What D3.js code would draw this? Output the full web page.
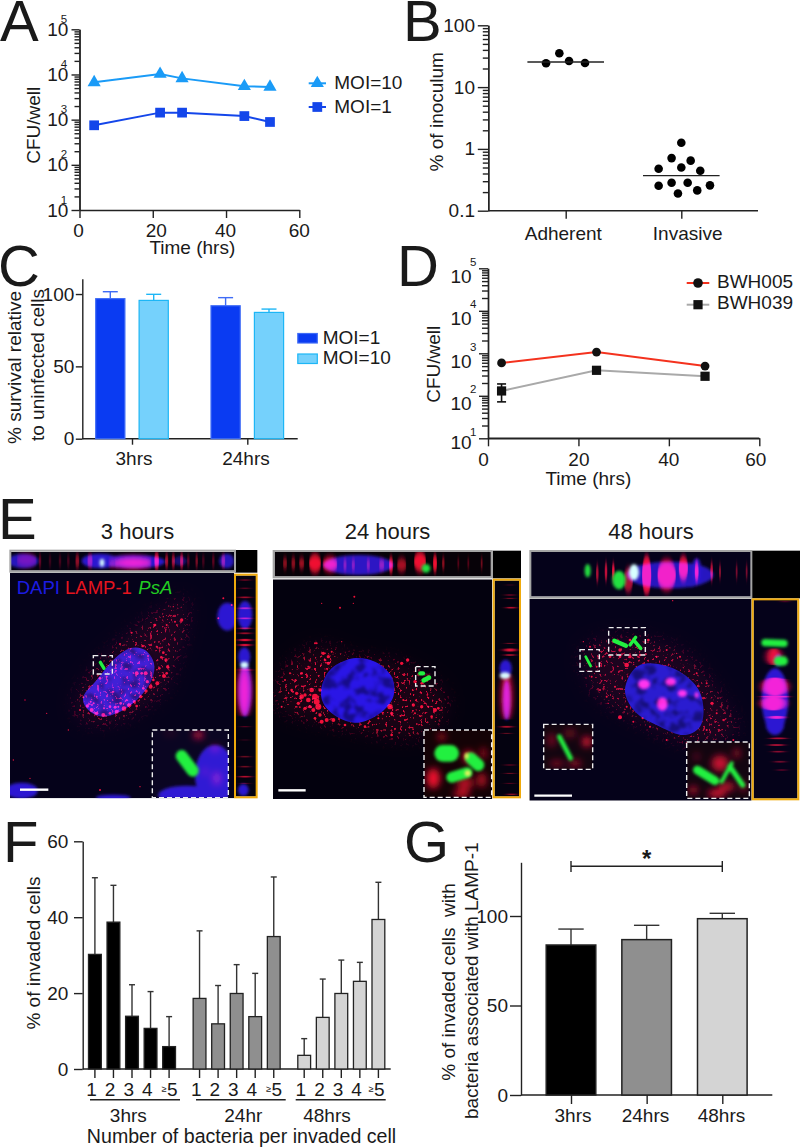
<!DOCTYPE html>
<html>
<head>
<meta charset="utf-8">
<script src="https://cdn.jsdelivr.net/npm/d3@7"></script>
<style>
	body{margin:0;background:#fff}
	text{font-family:"Liberation Sans",Arial,sans-serif;fill:#1a1a1a}
</style>
</head>
<body>
<div id="chart-area"></div>
<script>
// panel A
const aTime = [4,22,28,45,52]
const aMoi10 = [6700,10250,8200,5470,5290]
const aMoi1 = [750,1430,1430,1200,888]

// panel B
const bAdherent = [24.3,35.2,26.5,24.6]
const bAdherentSpread = [-0.17,-0.055,0.029,0.167]
const bInvasive = [1.26,0.71,0.646,0.5,0.478,0.444,0.254,0.284,0.284,0.257,0.213,0.19]
const bInvasiveSpread = [0,-0.084,0.081,0,-0.196,0.164,-0.196,-0.084,0.055,0.248,0.138,-0.029]
const bMedians = [25.5,0.369]
const bGroups = ["Adherent","Invasive"]

// panel C
const cGroups = ["3hrs","24hrs"]
const cSeries = ["MOI=1","MOI=10"]
const cMoi1 = [96.8,91.9]
const cMoi10 = [95.6,87.3]
const cMoi1Err = [101.6,97.5]
const cMoi10Err = [99.8,89.6]

// panel D
const dTime = [3,24,48]
const dBwh005 = [593,1070,500]
const dBwh039 = [130,398,288]
const dBwh039Hi = [190,398,288]
const dBwh039Lo = [72,398,288]

// panel F
const fGroups = ["3hrs","24hr","48hrs"]
const fCounts = ["1","2","3","4","≥5"]
const fValues = [[30.2,38.7,13.9,10.7,5.9],[18.6,11.9,19.9,13.8,34.9],[3.6,13.6,19.9,23.1,39.4]]
const fErrors = [[50.4,48.4,22.2,20.4,13.8],[36.4,22,27.5,25.2,50.6],[8,23.7,28.7,28.1,49.2]]
const fFills = ["#000","#8f8f8f","#d4d4d4"]

// panel G
const gGroups = ["3hrs","24hrs","48hrs"]
const gValues = [83.8,86.8,98.5]
const gErrors = [92.7,94.8,101.5]

const FONT_SIZE = 19
const INK = "#222"

const svg = d3.select("#chart-area").append("svg")
	.attr("width",800)
	.attr("height",1148)
	.style("display","block")

const defs = svg.append("defs")
function blurFilter(id,dev){
	defs.append("filter").attr("id",id)
		.attr("filterUnits","userSpaceOnUse")
		.attr("x",0).attr("y",0).attr("width",800).attr("height",1148)
		.append("feGaussianBlur").attr("stdDeviation",dev)
}
blurFilter("soft",0.7)
blurFilter("softer",1.6)
blurFilter("glow",3.5)
blurFilter("haze",9)
blurFilter("vstreak","0.7 3")
blurFilter("hstreak","3 0.7")

// speckled texture for the cell bodies, cut out of a soft copy of the shape
function textureFilter(id,freq,seed,slope,cut,edge,grain){
	const f = defs.append("filter").attr("id",id)
		.attr("filterUnits","userSpaceOnUse")
		.attr("x",0).attr("y",0).attr("width",800).attr("height",1148)
	f.append("feTurbulence").attr("type","fractalNoise").attr("baseFrequency",freq)
		.attr("numOctaves",2).attr("seed",seed).attr("result","n")
	f.append("feColorMatrix").attr("in","n").attr("type","matrix")
		.attr("values",`0 0 0 0 0 0 0 0 0 0 0 0 0 0 0 ${slope} 0 0 0 ${cut}`).attr("result","a")
	f.append("feGaussianBlur").attr("in","SourceGraphic").attr("stdDeviation",edge).attr("result","s")
	f.append("feComposite").attr("in","s").attr("in2","a").attr("operator","in").attr("result","c")
	f.append("feGaussianBlur").attr("in","c").attr("stdDeviation",grain)
}
textureFilter("speckle",0.34,4,10,-6.1,7,0.4)
textureFilter("mottle",0.09,7,5,-2.3,1,0.8)

function label(str,x,y,opts={}){
	const t = svg.append("text")
		.attr("x",x)
		.attr("y",y)
		.attr("font-size",opts.size||FONT_SIZE)
		.attr("text-anchor",opts.anchor||"middle")
		.text(str)
	if(opts.rotate) t.attr("transform",`rotate(-90,${x},${y})`)
	if(opts.fill) t.style("fill",opts.fill)
	if(opts.style) t.attr("font-style",opts.style)
	if(opts.weight) t.attr("font-weight",opts.weight)
	return t
}

function styleAxis(g){
	g.attr("font-family",null).attr("font-size",FONT_SIZE)
	g.selectAll("path,line").attr("stroke",INK).attr("stroke-width",1.4)
	return g
}

function hline(x1,x2,y,color=INK,w=1.4){
	svg.append("line").attr("x1",x1).attr("x2",x2).attr("y1",y).attr("y2",y)
		.attr("stroke",color).attr("stroke-width",w)
}

// log axis with minor ticks; labels are drawn by the caller
function logAxis(y,x0,majorLen,minorLen,isMajor){
	styleAxis(svg.append("g").attr("transform",`translate(${x0},0)`)
		.call(d3.axisLeft(y).tickValues(y.ticks().filter(d=>!isMajor(d))).tickSize(minorLen).tickSizeOuter(0).tickFormat("")))
	styleAxis(svg.append("g").attr("transform",`translate(${x0},0)`)
		.call(d3.axisLeft(y).tickValues(y.ticks().filter(isMajor)).tickSize(majorLen).tickSizeOuter(0).tickFormat("")))
}

const isDecade = d=>Math.abs(Math.log10(d)-Math.round(Math.log10(d)))<1e-6

function powerLabels(y,decades,tenEnd,tenDy,supX,supDy,supAnchor){
	decades.forEach(p=>{
		const v = Math.pow(10,p)
		const dy = typeof tenDy==="function" ? tenDy(p) : tenDy
		label("10",tenEnd,y(v)+dy,{anchor:"end"})
		label(p,supX,y(v)+supDy,{size:11.5,anchor:supAnchor})
	})
}

function nudgeTicks(g,offsets){
	g.selectAll(".tick text").attr("dx",(d,i)=>offsets[i])
}

/* ---------- A ---------- */
const ax = d3.scaleLinear().domain([0,60]).range([79.5,299.3])
const ay = d3.scaleLog().domain([10,100000]).range([210,29.3])
logAxis(ay,79.5,8,5,isDecade)
powerLabels(ay,[1,2,3,4,5],68.3,6.5,64,-6.5,"middle")
nudgeTicks(styleAxis(svg.append("g").attr("transform","translate(0,210)")
	.call(d3.axisBottom(ax).tickValues([0,20,40,60]).tickSize(8).tickSizeOuter(0).tickPadding(6))),[-1.5,3,-1,-0.6])

const aLine = d3.line().x((d,i)=>ax(aTime[i])).y(d=>ay(d))
const aColors = ["#1a9bf7","#1446ea"]
;[aMoi10,aMoi1].forEach((series,k)=>{
	svg.append("path").attr("d",aLine(series)).attr("fill","none")
		.attr("stroke",aColors[k]).attr("stroke-width",2)
	const sym = d3.symbol().type(k==0?d3.symbolTriangle:d3.symbolSquare).size(k==0?75:95)
	svg.selectAll(null).data(series).enter().append("path")
		.attr("d",sym)
		.attr("fill",aColors[k])
		.attr("transform",(d,i)=>`translate(${ax(aTime[i])},${ay(d)})`)
})
label("CFU/well",40,125.3,{rotate:true})
label("Time (hrs)",192.3,254)

;["MOI=10","MOI=1"].forEach((name,k)=>{
	const ly = [83.3,107][k]
	hline(308.7,326,ly,aColors[k],2)
	svg.append("path").attr("d",d3.symbol().type(k==0?d3.symbolTriangle:d3.symbolSquare).size(k==0?75:95))
		.attr("fill",aColors[k]).attr("transform",`translate(317.3,${ly})`)
	label(name,334.3,ly+5.5,{anchor:"start"})
})

/* ---------- B ---------- */
const bx = d3.scaleLinear().domain([0,1]).range([565.7,681.3])
const by = d3.scaleLog().domain([0.1,100]).range([210.7,25.3])
logAxis(by,488.3,10.5,5.5,isDecade)
;[100,10,1,0.1].forEach(v=>label(v,475,by(v)+6.5,{anchor:"end"}))
hline(488.3,758,210.7)
styleAxis(svg.append("g").attr("transform","translate(0,210.7)")
	.call(d3.axisBottom(bx).tickValues([0,1]).tickSize(8).tickSizeOuter(0).tickFormat("")))
	.select(".domain").remove()

svg.selectAll(null).data(bAdherent).enter().append("circle")
	.attr("cx",(d,i)=>bx(bAdherentSpread[i]))
	.attr("cy",d=>by(d))
	.attr("r",4.3)
	.attr("fill","#000")
svg.selectAll(null).data(bInvasive).enter().append("circle")
	.attr("cx",(d,i)=>bx(1+bInvasiveSpread[i]))
	.attr("cy",d=>by(d))
	.attr("r",4.3)
	.attr("fill","#000")
bMedians.forEach((m,i)=>hline(bx(i)-38.3,bx(i)+38.3,by(m)))
label("% of inoculum",442.7,111.7,{rotate:true})
label(bGroups[0],563.3,240)
label(bGroups[1],687.7,240)

/* ---------- C ---------- */
const cx0 = d3.scalePoint().domain(cGroups).range([132,247.3])
const cx1 = d3.scalePoint().domain(cSeries).range([-21.7,21.7])
const cy = d3.scaleLinear().domain([0,110.6]).range([438.7,278.7])
styleAxis(svg.append("g").attr("transform","translate(82.3,0)")
	.call(d3.axisLeft(cy).tickValues([0,50,100]).tickSize(6.5).tickSizeOuter(0).tickPadding(1.5)))
hline(82.3,297.7,438.7)
styleAxis(svg.append("g").attr("transform","translate(0,438.7)")
	.call(d3.axisBottom(cx0).tickSize(6).tickSizeOuter(0).tickFormat("")))
	.select(".domain").remove()

const cStyle = {"MOI=1":["#0a3bf2","#3f6cf6"],"MOI=10":["#75d1fc","#1db6f6"]}
cSeries.forEach((s,k)=>{
	const vals = k==0?cMoi1:cMoi10
	const errs = k==0?cMoi1Err:cMoi10Err
	cGroups.forEach((g,i)=>{
		const x = cx0(g)+cx1(s)
		svg.append("line").attr("x1",x).attr("x2",x).attr("y1",cy(vals[i])).attr("y2",cy(errs[i]))
			.attr("stroke",cStyle[s][1]).attr("stroke-width",1.4)
		hline(x-7.5,x+7.5,cy(errs[i]),cStyle[s][1])
		svg.append("rect").attr("x",x-14.6).attr("width",29.2)
			.attr("y",cy(vals[i])).attr("height",cy(0)-cy(vals[i]))
			.attr("fill",cStyle[s][0]).attr("stroke",cStyle[s][1]).attr("stroke-width",1.2)
	})
})
label("% survival relative",21,367.5,{rotate:true})
label("to uninfected cells",44.3,365,{rotate:true})
label(cGroups[0],134,465)
label(cGroups[1],246,465)
cSeries.forEach((s,k)=>{
	svg.append("rect").attr("x",297.8).attr("width",19.5)
		.attr("y",333.5+k*20.5).attr("height",9.5)
		.attr("fill",cStyle[s][0]).attr("stroke",cStyle[s][1]).attr("stroke-width",1.2)
	label(s,322.7,344+k*20,{anchor:"start"})
})

/* ---------- D ---------- */
const dx = d3.scaleLinear().domain([0,60]).range([488,759.3])
const dy = d3.scaleLog().domain([10,100000]).range([438.3,268.3])
logAxis(dy,488,9,6,isDecade)
powerLabels(dy,[1,2,3,4,5],471.7,p=>p==1?11:14.5,470,-2.6,"start")
hline(488,759.3,438.3)
nudgeTicks(styleAxis(svg.append("g").attr("transform","translate(0,438.3)")
	.call(d3.axisBottom(dx).tickValues([0,20,40,60]).tickSize(8).tickSizeOuter(0).tickPadding(6))),[-5,0,-0.5,-4])

const dLine = d3.line().x((d,i)=>dx(dTime[i])).y(d=>dy(d))
svg.append("path").attr("d",dLine(dBwh039)).attr("fill","none").attr("stroke","#a9a9a9").attr("stroke-width",2)
svg.append("path").attr("d",dLine(dBwh005)).attr("fill","none").attr("stroke","#f4321e").attr("stroke-width",2)
dBwh039Hi.forEach((hi,i)=>{
	if(hi==dBwh039[i]) return
	const x = dx(dTime[i])
	svg.append("line").attr("x1",x).attr("x2",x).attr("y1",dy(hi)).attr("y2",dy(dBwh039Lo[i]))
		.attr("stroke","#111").attr("stroke-width",1.6)
	hline(x-4.5,x+4.5,dy(hi),"#111",1.6)
	hline(x-4.5,x+4.5,dy(dBwh039Lo[i]),"#111",1.6)
})
svg.selectAll(null).data(dBwh005).enter().append("circle")
	.attr("cx",(d,i)=>dx(dTime[i])).attr("cy",d=>dy(d)).attr("r",4.4).attr("fill","#111")
svg.selectAll(null).data(dBwh039).enter().append("path")
	.attr("d",d3.symbol().type(d3.symbolSquare).size(85))
	.attr("fill","#111")
	.attr("transform",(d,i)=>`translate(${dx(dTime[i])},${dy(d)})`)
label("CFU/well",440,364.3,{rotate:true})
label("Time (hrs)",588.3,485)

hline(686.7,709.3,283,"#f4321e",2)
svg.append("circle").attr("cx",698).attr("cy",283).attr("r",4.8).attr("fill","#111")
hline(686.7,709.3,304.7,"#a9a9a9",2)
svg.append("path").attr("d",d3.symbol().type(d3.symbolSquare).size(85)).attr("fill","#111")
	.attr("transform","translate(698,304.7)")
label("BWH005",717,288.3,{anchor:"start"})
label("BWH039",717,309,{anchor:"start"})

/* ---------- E: micrographs, everything in zoomed crop units (3 per page pixel) ---------- */
const BG = "#05021a"
const hazeLine = d3.line().curve(d3.curveCardinalClosed)

// blobs are [x,y,rx,ry,opacity], puncta [x,y,r]
const nuc1 = [[250,590],[290,540],[340,480],[390,445],[435,450],[462,490],[455,540],[420,590],[370,630],[310,650],[265,630]]
const cell1 = [[225,610],[290,500],[370,420],[470,340],[550,300],[560,370],[520,500],[490,570],[380,650],[270,670]]
const e1Blue = [[682,350,30,42],[65,872,48,24],[340,893,52,9]]
const e1Puncta = [[262,618,5],[275,630,6],[290,640,5],[310,645,6],[330,640,4],[350,635,6],[372,626,7],[388,616,6],[403,605,5],[422,590,5],[438,573,5],[452,560,6],[472,550,6],[492,528,6],[503,500,5],[498,480,5],[490,458,4],[470,440,3],[428,438,4],[395,398,3],[465,375,4],[545,360,5],[500,375,3],[360,432,3],[410,520,6],[437,520,6],[300,535,4],[320,530,3],[281,610,3],[330,620,4],[250,592,3],[240,630,3],[525,365,3],[490,350,2],[520,320,2],[380,600,3],[355,620,3],[290,590,3],[340,575,3],[478,505,4],[484,472,4],[442,545,5],[410,618,4],[272,605,3],[312,625,3],[670,295,3],[695,315,3],[655,355,3],[75,600,2],[40,780,2],[90,835,2],[300,870,3],[420,860,2],[140,640,2],[205,690,2],[425,520,4],[362,610,4],[345,622,4],[460,540,4],[430,565,4],[500,520,4]]
const e1Green = [[301,487,312,505,10]]

const e1InsetBlue = [[645,825,60,90],[560,885,85,28]]
const e1InsetRed = [[595,705,16,12,0.8],[645,745,12,8,0.6],[650,835,12,20,0.5],[615,815,8,8,0.4],[510,700,20,8,0.15]]
const e1InsetGreen = [[545,768,578,812,36]]

const e1TopBlue = [[70,183,45,22,0.9],[680,183,22,22,0.9],[300,183,55,22],[400,185,95,20],[540,183,20,14,0.5]]
const e1TopRed = [[80,180,30,20,0.4],[400,188,55,18],[345,190,20,12,0.6],[270,183,8,20,0.6],[470,183,7,25],[500,183,5,20,0.7],[520,183,5,20,0.7],[545,183,5,22,0.8],[590,183,4,20,0.5],[640,183,4,18,0.4],[120,183,4,20,0.4],[180,183,4,16,0.3],[232,183,6,20,0.6],[150,183,4,16,0.25],[205,183,4,16,0.3],[565,183,4,16,0.4],[610,183,4,16,0.3],[670,183,6,18,0.6]]
const e1TopWhite = [[306,188,7,12]]

const e1SideBlue = [[735,345,22,42],[733,470,18,28],[735,570,20,80],[730,870,16,18]]
const e1SideRed = [[733,575,20,75],[735,240,14,2.5,0.6],[735,265,12,2.5,0.5],[735,292,18,3,0.7],[735,325,16,3,0.8],[735,355,18,3,0.8],[735,385,18,3,0.8],[735,400,16,3,0.7],[735,420,18,4],[735,435,16,4],[735,510,18,3],[735,680,12,2,0.5],[735,720,10,2,0.3],[735,770,14,2.5,0.5],[735,800,12,2.5,0.6],[735,830,18,3,0.8],[735,850,12,2,0.5]]
const e1SideWhite = [[733,495,12,10]]

const nuc2 = [[170,560],[200,505],[265,475],[330,485],[380,530],[385,590],[345,640],[280,668],[215,650],[175,610]]
const cell2 = [[40,560],[100,470],[180,440],[260,470],[400,490],[520,560],[540,640],[480,700],[380,710],[240,680],[100,650],[50,620]]
const e2Puncta = [[150,590,9],[140,570,7],[160,620,9],[130,600,7],[110,590,7],[185,660,6],[205,660,6],[170,665,6],[155,605,9],[145,630,6],[175,460,5],[190,470,5],[150,430,3],[225,323,3],[268,290,3],[410,490,5],[428,480,5],[450,545,5],[375,620,8],[380,640,5],[445,615,5],[470,620,5],[510,630,6],[520,625,4],[500,650,4],[490,530,4],[300,680,4],[240,675,4],[60,540,3],[80,570,4],[95,580,5],[110,520,4],[130,500,3],[190,490,5],[50,620,3],[380,705,4],[470,550,4],[100,610,5],[120,625,5],[75,520,3],[180,480,4],[200,455,3],[340,655,3],[415,600,3],[450,640,3],[490,620,3],[170,310,2],[265,310,2],[155,430,3],[230,425,2],[420,660,3],[165,570,5],[120,585,5],[135,620,5],[165,645,5],[150,655,4]]
const e2Green = [[466,520,474,520,13],[476,541,492,533,14]]
const e2InsetRed = [[505,835,20,30],[590,880,25,10,0.9],[530,710,12,12,0.6],[610,770,15,18],[650,840,14,22,0.7],[600,850,25,20,0.7],[655,760,10,18,0.6]]
const e2InsetGreen = [[533,760,557,760,50],[560,832,606,818,32],[618,775,640,795,36]]
const e2InsetYellow = [[608,820,9,9],[605,768,6,9]]
const e2TopBlue = [[280,195,105,30,0.95]]
const e2TopRed = [[60,190,6,16,0.6],[85,190,6,18,0.6],[110,190,8,16,0.7],[150,190,18,28],[195,193,22,22],[240,195,5,16,0.5],[265,195,5,16,0.5],[310,195,5,16,0.5],[350,195,8,14,0.6],[378,195,6,24],[410,195,14,20,0.7],[465,185,18,30],[510,190,6,26],[535,190,4,18,0.6],[580,190,3,14,0.4],[610,190,3,14,0.4],[650,190,3,16,0.5]]
const e2TopGreen = [[483,205,13,13]]
const e2SideBlue = [[722,505,18,26],[725,600,12,60]]
const e2SideRed = [[725,590,16,70],[735,255,6,2,0.5],[735,285,12,2,0.7],[735,295,12,2,0.7],[738,323,12,2.5],[735,430,12,2,0.7],[735,450,18,5],[735,465,14,3,0.8],[725,680,16,3,0.8],[725,700,12,2,0.6],[735,795,14,2,0.5],[735,820,14,2,0.6],[735,850,12,2,0.5],[740,883,12,2.5,0.8]]
const e2SideWhite = [[720,527,16,10]]

const nuc3 = [[315,575],[340,510],[390,490],[470,510],[530,560],[550,620],[540,680],[490,705],[420,680],[350,640]]
const cell3 = [[190,470],[250,420],[380,420],[500,470],[620,620],[640,700],[520,730],[350,660],[230,580]]
const e3Nucleoli = [[372,553,18,15],[452,545,16,12],[487,580,14,11],[427,612,16,20],[530,585,6,9]]
const e3Puncta = [[320,495,7],[300,652,6],[576,610,5],[368,655,3],[458,302,2],[210,440,3],[190,425,2],[330,470,5],[300,470,4],[270,470,4],[385,420,4],[360,465,4],[240,570,3],[260,590,3],[215,530,3],[230,500,3],[320,620,3],[340,665,3],[390,680,3],[440,720,3],[500,730,3],[560,690,3],[610,660,3],[640,720,3],[590,640,3],[560,550,3],[530,520,3],[480,470,3],[440,450,3],[410,470,3],[470,460,2],[285,560,3],[265,610,2],[330,420,4],[300,450,5]]
const e3Green = [[283,422,318,437,13],[330,435,347,412,10],[345,425,362,445,11],[197,470,212,498,8]]
const e3Inset1Red = [[200,725,14,16,0.9],[110,790,22,8,0.6],[95,720,14,22,0.4],[165,790,20,10,0.6],[150,700,20,14,0.35]]
const e3Inset1Green = [[118,710,152,775,14]]
const e3Inset2Red = [[590,880,28,10],[600,790,26,24,0.8],[650,760,12,16,0.5],[530,770,10,14,0.3],[520,870,14,12,0.7],[670,860,8,18,0.6],[620,860,25,14,0.7]]
const e3Inset2Green = [[532,810,585,842,26],[605,845,635,790,12],[630,800,668,855,16]]
const e3TopBlue = [[450,225,130,40,0.9],[530,215,14,40]]
const e3TopRed = [[380,225,14,58],[440,225,28,46],[490,205,14,36],[530,215,6,28],[232,220,4,26,0.7],[258,215,4,28,0.8],[280,215,4,26],[575,215,4,28,0.8],[600,215,3,22,0.6],[650,215,3,22,0.5],[680,215,3,22,0.5],[325,240,14,36,0.7]]
const e3TopGreen = [[203,212,9,20],[297,240,20,28]]
const e3TopWhite = [[342,217,15,24]]
const e3SideBlue = [[765,600,40,95],[765,670,28,35],[775,480,10,18]]
const e3SideRed = [[765,560,40,28],[760,610,38,22],[770,652,24,5],[762,470,22,26],[770,540,28,4],[765,590,42,4],[775,715,26,3,0.7],[770,735,24,3,0.7],[775,755,18,3,0.6],[780,785,16,3,0.5],[785,810,12,3,0.4],[795,305,10,2,0.5]]
const e3SideGreen = [[735,428,792,430,22],[775,483,790,483,28]]

function toPage(ox,oy){
	return {x:d3.scaleLinear().domain([0,3]).range([ox,ox+1]),y:d3.scaleLinear().domain([0,3]).range([oy,oy+1])}
}

let clipCount = 0
function region(ox,oy,bounds,layers){
	const p = toPage(ox,oy)
	const id = "clip"+(clipCount++)
	defs.append("clipPath").attr("id",id).append("rect")
		.attr("x",p.x(bounds[0])).attr("y",p.y(bounds[1]))
		.attr("width",p.x(bounds[2])-p.x(bounds[0])).attr("height",p.y(bounds[3])-p.y(bounds[1]))
	const g = svg.append("g").attr("clip-path",`url(#${id})`).style("isolation","isolate")
	g.append("rect").attr("x",p.x(bounds[0])).attr("y",p.y(bounds[1]))
		.attr("width",p.x(bounds[2])-p.x(bounds[0])).attr("height",p.y(bounds[3])-p.y(bounds[1]))
		.attr("fill",layers.bg||BG)

	const blobLayer = (blobs,color,filter,opacity=1,blend="screen")=>{
		const l = g.append("g").attr("filter",`url(#${filter})`).style("mix-blend-mode",blend).attr("opacity",opacity)
		l.selectAll("ellipse").data(blobs).enter().append("ellipse")
			.attr("cx",d=>p.x(d[0])).attr("cy",d=>p.y(d[1]))
			.attr("rx",d=>d[2]/3)
			.attr("ry",d=>(d[3]===undefined?d[2]:d[3])/3)
			.attr("opacity",d=>d[4]===undefined?1:d[4])
			.attr("fill",color)
		return l
	}
	const polyLayer = (pts,color,filter,opacity,blend="screen")=>{
		g.append("path").attr("d",hazeLine(pts.map(d=>[p.x(d[0]),p.y(d[1])])))
			.attr("fill",color).attr("opacity",opacity).attr("filter",`url(#${filter})`)
			.style("mix-blend-mode",blend)
	}
	const cellTexture = ()=>{
		polyLayer(layers.cell,"#a00c28","haze",0.14)
		polyLayer(layers.cell,"#ff1030","speckle",layers.speckle||0.8)
	}
	// 24 and 48 hours: the nucleus sits over the speckle, at 3 hours the speckle shows on it
	if(layers.cell && layers.speckleUnder) cellTexture()
	if(layers.nucleus){
		polyLayer(layers.nucleus,layers.nucleusColor||"#2a1ed0","soft",1,layers.speckleUnder?"normal":"screen")
		polyLayer(layers.nucleus,"#05021a","mottle",0.45,"normal")
	}
	if(layers.cell && !layers.speckleUnder) cellTexture()
	if(layers.blue) blobLayer(layers.blue,"#2a18d8","softer",0.95)
	if(layers.red) blobLayer(layers.red,"#f0102a",layers.redBlur||"soft",layers.redOpacity||1)
	if(layers.nucleoli) blobLayer(layers.nucleoli,"#ff1aa8","softer",1)
	if(layers.green){
		const l = g.append("g").attr("filter",`url(#${layers.greenBlur||"soft"})`)
		l.selectAll("line").data(layers.green).enter().append("line")
			.attr("x1",d=>p.x(d[0])).attr("y1",d=>p.y(d[1]))
			.attr("x2",d=>p.x(d[2])).attr("y2",d=>p.y(d[3]))
			.attr("stroke","#22f040").attr("stroke-width",d=>d[4]/3)
			.attr("stroke-linecap","round")
	}
	if(layers.greenBlobs) blobLayer(layers.greenBlobs,"#22e040","softer",1,"normal")
	if(layers.yellow) blobLayer(layers.yellow,"#e8f060","softer",1,"normal")
	if(layers.white) blobLayer(layers.white,"#d8ffff","softer",1,"normal")
}

function box(ox,oy,b,stroke,w,dash){
	const p = toPage(ox,oy)
	const r = svg.append("rect").attr("x",p.x(b[0])).attr("y",p.y(b[1]))
		.attr("width",p.x(b[2])-p.x(b[0])).attr("height",p.y(b[3])-p.y(b[1]))
		.attr("fill","none").attr("stroke",stroke).attr("stroke-width",w)
	if(dash) r.attr("stroke-dasharray",dash)
}

function blackCorner(ox,oy,b){
	const p = toPage(ox,oy)
	svg.append("rect").attr("x",p.x(b[0])).attr("y",p.y(b[1]))
		.attr("width",p.x(b[2])-p.x(b[0])).attr("height",p.y(b[3])-p.y(b[1])).attr("fill","#000")
}

function scaleBar(ox,oy,x1,x2,y){
	const p = toPage(ox,oy)
	hline(p.x(x1),p.x(x2),p.y(y),"#fff",2.4)
}

const GOLD = "#efaa0c"
const GREY = "#a4a4a4"
const DASH = "5,3"

// 3 hours
region(0,500,[30,218,702,895],{nucleus:nuc1,cell:cell1,speckle:0.7,blue:e1Blue,red:e1Puncta,green:e1Green})
region(0,500,[457,690,685,893],{bg:"#0a0522",blue:e1InsetBlue,red:e1InsetRed,redBlur:"glow",green:e1InsetGreen,greenBlur:"softer"})
region(0,500,[33,155,703,212],{bg:"#040210",blue:e1TopBlue,red:e1TopRed,redBlur:"vstreak",white:e1TopWhite})
region(0,500,[707,226,768,890],{bg:"#040210",blue:e1SideBlue,red:e1SideRed,redBlur:"hstreak",white:e1SideWhite})
blackCorner(0,500,[705,150,772,218])
box(0,500,[31,152,705,215],GREY,2)
box(0,500,[705,224,770,892],GOLD,2)
box(0,500,[457,690,685,893],"#eee",1.4,DASH)
box(0,500,[280,467,337,522],"#eee",1.4,DASH)
scaleBar(0,500,60,145,869)

// 24 hours
region(265,500,[24,238,682,897],{bg:"#03010e",nucleus:nuc2,nucleusColor:"#2c18e6",cell:cell2,speckleUnder:true,speckle:0.85,red:e2Puncta,green:e2Green})
region(265,500,[477,690,680,892],{bg:"#140206",red:e2InsetRed,redBlur:"glow",green:e2InsetGreen,greenBlur:"softer",yellow:e2InsetYellow})
region(265,500,[28,155,678,230],{bg:"#070208",blue:e2TopBlue,red:e2TopRed,redBlur:"vstreak",greenBlobs:e2TopGreen})
region(265,500,[688,241,763,890],{bg:"#040210",blue:e2SideBlue,red:e2SideRed,redBlur:"hstreak",white:e2SideWhite})
blackCorner(265,500,[683,152,768,235])
box(265,500,[26,153,680,232],GREY,2)
box(265,500,[686,239,765,892],GOLD,2)
box(265,500,[477,690,680,892],"#eee",1.4,DASH)
box(265,500,[452,500,510,558],"#eee",1.4,DASH)
scaleBar(265,500,40,122,871)

// 48 hours
region(520,500,[28,297,695,902],{nucleus:nuc3,cell:cell3,speckleUnder:true,speckle:0.7,red:e3Puncta,nucleoli:e3Nucleoli,green:e3Green})
region(520,500,[71,673,218,808],{bg:"#120510",red:e3Inset1Red,redBlur:"glow",green:e3Inset1Green,greenBlur:"softer"})
region(520,500,[500,726,688,895],{bg:"#120510",red:e3Inset2Red,redBlur:"glow",green:e3Inset2Green,greenBlur:"softer"})
region(520,500,[32,155,693,290],{blue:e3TopBlue,red:e3TopRed,redBlur:"vstreak",greenBlobs:e3TopGreen,white:e3TopWhite})
region(520,500,[700,300,833,896],{blue:e3SideBlue,red:e3SideRed,redBlur:"hstreak",green:e3SideGreen,greenBlur:"softer"})
blackCorner(520,500,[695,152,840,295])
box(520,500,[31,153,694,293],GREY,2)
box(520,500,[698,298,835,898],GOLD,2)
box(520,500,[71,673,218,808],"#eee",1.4,DASH)
box(520,500,[500,726,688,895],"#eee",1.4,DASH)
box(520,500,[180,449,238,514],"#eee",1.4,DASH)
box(520,500,[266,383,376,465],"#eee",1.4,DASH)
scaleBar(520,500,43,156,887)

label("3 hours",137.5,539.3,{size:22})
label("24 hours",387.5,539.3,{size:22})
label("48 hours",651,539.3,{size:22})
label("DAPI",16.7,594.3,{anchor:"start",size:18.5,fill:"#1c1ce4"})
label("LAMP-1",65,594.3,{anchor:"start",size:18.5,fill:"#e4141e"})
label("PsA",138.3,594.3,{anchor:"start",size:18.5,fill:"#22cc22",style:"italic"})

/* ---------- F ---------- */
const fx0 = d3.scalePoint().domain(fGroups).range([132,341.3])
const fx1 = d3.scalePoint().domain(fCounts).range([-37.1,37.1])
const fy = d3.scaleLinear().domain([0,60]).range([1069,841.3])
styleAxis(svg.append("g").attr("transform","translate(82.7,0)")
	.call(d3.axisLeft(fy).tickValues([0,20,40,60]).tickSize(8.7).tickSizeOuter(0).tickPadding(5.7)))
hline(82.7,390.7,1069)

fGroups.forEach((g,i)=>{
	fCounts.forEach((c,j)=>{
		const x = fx0(g)+fx1(c)
		svg.append("line").attr("x1",x).attr("x2",x).attr("y1",fy(fValues[i][j])).attr("y2",fy(fErrors[i][j]))
			.attr("stroke","#333").attr("stroke-width",1.4)
		hline(x-3,x+3,fy(fErrors[i][j]),"#333",1.4)
		svg.append("rect").attr("x",x-6.4).attr("width",12.8)
			.attr("y",fy(fValues[i][j])).attr("height",fy(0)-fy(fValues[i][j]))
			.attr("fill",fFills[i]).attr("stroke","#222").attr("stroke-width",1.3)
		svg.append("line").attr("x1",x).attr("x2",x).attr("y1",1069).attr("y2",1078)
			.attr("stroke",INK).attr("stroke-width",1.4)
		if(c==="≥5"){
			const nudge = i==2?-4.3:-2.2
			label("≥",x+nudge-0.3,1092,{size:9,anchor:"end"})
			label("5",x+nudge,1095.7,{anchor:"start"})
		}
		else label(c,x-3.3,1095.7)
	})
})
;[[90,180],[196,285.7],[295.7,385.7]].forEach(u=>hline(u[0],u[1],1099.7,INK,1.4))
label(fGroups[0],128.3,1122.3)
label(fGroups[1],243.3,1122.3)
label(fGroups[2],327,1122.3)
label("Number of bacteria per invaded cell",241.5,1143.3,{size:19.6})
label("% of invaded cells",40,953,{rotate:true})

/* ---------- G ---------- */
const gx = d3.scalePoint().domain(gGroups).range([571,722.3])
const gy = d3.scaleLinear().domain([0,130]).range([1095,862.3])
styleAxis(svg.append("g").attr("transform","translate(521,0)")
	.call(d3.axisLeft(gy).tickValues([0,50,100]).tickSize(11).tickSizeOuter(0).tickPadding(2)))
hline(521,772.3,1095)
styleAxis(svg.append("g").attr("transform","translate(0,1095)")
	.call(d3.axisBottom(gx).tickSize(9).tickSizeOuter(0).tickFormat("")))
	.select(".domain").remove()

gGroups.forEach((g,i)=>{
	const x = gx(g)
	svg.append("line").attr("x1",x).attr("x2",x).attr("y1",gy(gValues[i])).attr("y2",gy(gErrors[i]))
		.attr("stroke","#333").attr("stroke-width",1.4)
	hline(x-12.7,x+12.7,gy(gErrors[i]),"#333",1.4)
	svg.append("rect").attr("x",x-24.8).attr("width",49.6)
		.attr("y",gy(gValues[i])).attr("height",gy(0)-gy(gValues[i]))
		.attr("fill",fFills[i]).attr("stroke","#222").attr("stroke-width",1.5)
})
label(gGroups[0],573,1121.7)
label(gGroups[1],645.5,1121.7)
label(gGroups[2],721.5,1121.7)
label("% of invaded cells  with",455,982,{rotate:true}).style("white-space","pre")
label("bacteria associated with LAMP-1",478,980.7,{rotate:true})

// significance bracket
hline(gx(gGroups[0]),gx(gGroups[2]),866.3,INK,1.4)
gGroups.filter((d,i)=>i!=1).forEach(g=>{
	svg.append("line").attr("x1",gx(g)).attr("x2",gx(g)).attr("y1",861).attr("y2",872)
		.attr("stroke",INK).attr("stroke-width",1.4)
})
label("*",gx(gGroups[1]),867,{size:24,weight:"bold"})

/* ---------- panel letters ---------- */
;[["A",0,41],["B",403,41],["C",-2,286],["D",397,286],["E",-2,539],["F",3,862],["G",404,862]].forEach(l=>{
	label(l[0],l[1],l[2],{size:58,anchor:"start"})
})
</script>
</body>
</html>
